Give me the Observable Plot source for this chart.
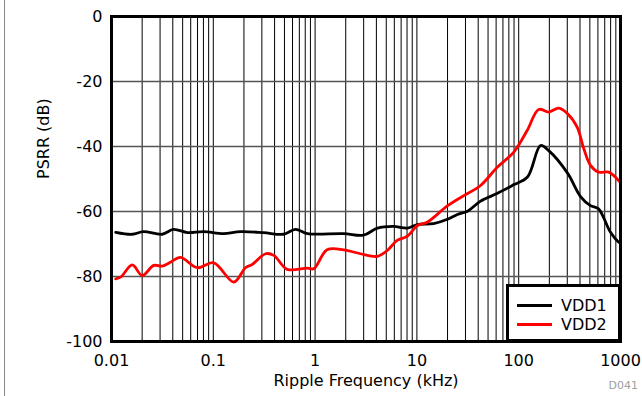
<!DOCTYPE html>
<html><head><meta charset="utf-8">
<script src="https://cdn.jsdelivr.net/npm/d3@7"></script>
<script src="https://cdn.jsdelivr.net/npm/@observablehq/plot@0.6"></script>
<style>
body{margin:0;background:#fff;}
#wrap{position:relative;width:642px;height:396px;font-family:"DejaVu Sans",sans-serif;overflow:hidden;}
#edge{position:absolute;left:4px;top:0;width:1px;height:396px;background:#8a8a8a;}
#legend{position:absolute;left:506px;top:284px;width:115px;height:58px;box-sizing:border-box;border:3px solid #000;background:#fff;}
.item{position:absolute;left:8px;height:20px;display:flex;align-items:center;font-size:16px;color:#000;}
.item span.sw{display:inline-block;width:35px;height:3px;margin-right:9px;}
#code{position:absolute;right:4px;top:379px;font-size:11px;color:#a0a0a0;}
</style></head><body><div id="wrap"><div id="edge"></div></div>
<script>
// Tick values and labels
const xTicks = [0.01, 0.1, 1, 10, 100, 1000];
const xTickLabels = ["0.01", "0.1", "1", "10", "100", "1000"];
const yTicks = [0, -20, -40, -60, -80, -100];
const yTickLabels = ["0", "-20", "-40", "-60", "-80", "-100"];
const seriesNames = ["VDD1", "VDD2"];
const seriesColors = ["#000000", "#ff0000"];

// VDD1 (black)
const freq1 = [0.011, 0.016, 0.0206, 0.0315, 0.0406, 0.0558, 0.08, 0.126, 0.185, 0.311, 0.489, 0.642, 0.842, 1.9, 2.99, 4.1, 5.89, 8.09, 10.1, 14.6, 20, 25, 31.4, 42.2, 61.9, 88.9, 122, 164, 196, 302, 405, 507, 608, 798, 955, 1000];
const psrr1 = [-66.4, -67.0, -66.2, -67.0, -65.5, -66.5, -66.2, -66.8, -66.2, -66.5, -67.0, -65.5, -66.8, -66.8, -67.3, -65.1, -64.6, -65.1, -64.0, -63.7, -62.4, -60.9, -59.9, -56.8, -54.4, -51.8, -49.4, -39.7, -41.2, -48.2, -55.4, -58.2, -59.2, -66.4, -69.4, -69.8];

// VDD2 (red)
const freq2 = [0.011, 0.0123, 0.016, 0.02, 0.026, 0.0315, 0.038, 0.0476, 0.0695, 0.101, 0.159, 0.207, 0.241, 0.326, 0.393, 0.532, 0.836, 0.971, 1.31, 1.91, 2.79, 4.09, 5.11, 6.4, 8.08, 10.1, 12.6, 19.9, 28.9, 42.2, 61.5, 89.5, 121, 157, 197, 248, 302, 376, 436, 507, 612, 767, 962, 1000];
const psrr2 = [-80.7, -80.2, -76.4, -79.7, -76.6, -76.8, -75.6, -74.1, -77.3, -75.8, -81.7, -77.3, -76.3, -73.0, -73.5, -77.8, -77.4, -77.6, -71.8, -71.8, -73.0, -73.8, -72.0, -68.9, -67.6, -64.3, -63.3, -58.3, -55.1, -52.0, -46.4, -41.7, -35.1, -28.6, -29.4, -28.2, -29.9, -34.1, -40.7, -45.8, -47.9, -47.9, -50.5, -51.0];

const data = [
  ...freq1.map((f, i) => ({f, v: psrr1[i], s: seriesNames[0]})),
  ...freq2.map((f, i) => ({f, v: psrr2[i], s: seriesNames[1]}))
];

// log grid: 1..9 per decade
const gridX = [];
for (let d = 0; d < xTicks.length - 1; d++) {
  for (let k = 1; k <= 9; k++) gridX.push(xTicks[d] * k);
}
gridX.push(xTicks[xTicks.length - 1]);

const chart = Plot.plot({
  width: 642,
  height: 396,
  marginLeft: 111,
  marginRight: 22,
  marginTop: 16,
  marginBottom: 55,
  style: {fontFamily: "DejaVu Sans, sans-serif", fontSize: "16px", color: "#000", background: "transparent"},
  x: {type: "log", domain: [xTicks[0], xTicks[xTicks.length - 1]], ticks: xTicks,
      tickFormat: d => xTickLabels[xTicks.indexOf(d)], tickSize: 0, tickPadding: 13, label: null},
  y: {domain: [yTicks[yTicks.length - 1], yTicks[0]], ticks: yTicks,
      tickFormat: d => yTickLabels[yTicks.indexOf(d)], tickSize: 0, tickPadding: 9, label: null},
  color: {domain: seriesNames, range: seriesColors},
  marks: [
    Plot.ruleX(gridX, {stroke: "#000", strokeWidth: 1}),
    Plot.ruleY(yTicks.slice(1, -1), {stroke: "#555", strokeWidth: 1.6}),
    Plot.line(data, {x: "f", y: "v", z: "s", stroke: "s", strokeWidth: 2.8, curve: "catmull-rom"}),
    Plot.frame({stroke: "#000", strokeWidth: 3}),
    Plot.text(["Ripple Frequency (kHz)"], {text: d => d, frameAnchor: "bottom", dy: 44, fontSize: 16, fill: "#000"}),
    Plot.text(["PSRR (dB)"], {text: d => d, frameAnchor: "left", dx: -68, rotate: -90, fontSize: 16, fill: "#000"})
  ]
});

const wrap = document.getElementById("wrap");
wrap.appendChild(chart);

// legend
const legend = document.createElement("div");
legend.id = "legend";
seriesNames.forEach((name, i) => {
  const it = document.createElement("div");
  it.className = "item";
  it.style.top = (i === 0 ? 8 : 27) + "px";
  const sw = document.createElement("span");
  sw.className = "sw";
  sw.style.background = seriesColors[i];
  it.appendChild(sw);
  it.appendChild(document.createTextNode(name));
  legend.appendChild(it);
});
wrap.appendChild(legend);

const code = document.createElement("div");
code.id = "code";
code.textContent = "D041";
wrap.appendChild(code);
</script></body></html>
